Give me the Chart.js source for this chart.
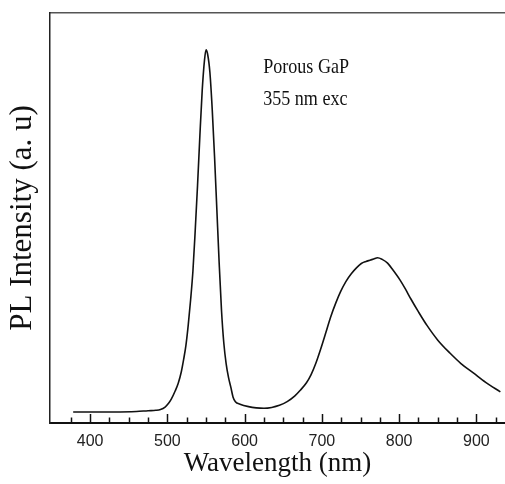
<!DOCTYPE html>
<html>
<head>
<meta charset="utf-8">
<script src="https://cdn.jsdelivr.net/npm/chart.js@4.4.0/dist/chart.umd.min.js"></script>
<style>
  html, body { margin: 0; padding: 0; background: #fff; overflow: hidden; }
  #plChart { display: block; }
</style>
</head>
<body>
<canvas id="plChart" width="505" height="484"></canvas>
<script>
// wavelength (nm) and PL intensity (a.u., 0 = axis, 1 = top of frame)
var wavelengths = [
  378, 400, 430, 460, 475, 485, 491, 497, 501.5, 505, 510, 514, 518, 521, 524, 527, 530, 533,
  536, 539, 542, 545, 548, 550, 552, 555, 558, 561, 564, 567, 570, 573, 576, 579, 582, 585,
  588, 594, 605, 615, 625, 635, 645, 655, 665, 672, 680, 686, 692, 698, 705, 711, 718, 724,
  731, 738, 745, 751, 757, 762, 767, 772, 778, 785, 792, 801, 808, 815, 825, 836, 850, 866,
  880, 896, 912, 931
];
var intensity = [
  0.027, 0.027, 0.027, 0.028, 0.030, 0.031, 0.033, 0.039, 0.048, 0.058, 0.078, 0.097, 0.125,
  0.155, 0.190, 0.240, 0.300, 0.370, 0.470, 0.580, 0.700, 0.810, 0.885, 0.910, 0.900, 0.855,
  0.765, 0.650, 0.520, 0.390, 0.275, 0.195, 0.145, 0.112, 0.088, 0.063, 0.052, 0.046, 0.040,
  0.037, 0.036, 0.038, 0.043, 0.052, 0.066, 0.080, 0.098, 0.118, 0.145, 0.178, 0.220, 0.257,
  0.293, 0.320, 0.345, 0.364, 0.379, 0.389, 0.394, 0.397, 0.400, 0.403, 0.399, 0.390, 0.373,
  0.349, 0.327, 0.303, 0.271, 0.238, 0.202, 0.170, 0.145, 0.122, 0.099, 0.076
];
var xMin = 348, xMax = 937;
var tickStep = 25;
var xLabels = [400, 500, 600, 700, 800, 900];
var notes = [
  { text: 'Porous GaP', x: 624, y: 0.866 },
  { text: '355 nm exc', x: 624, y: 0.788 }
];

var points = wavelengths.map(function (w, i) { return { x: w, y: intensity[i] }; });

var innerTicks = {
  id: 'innerTicks',
  afterDraw: function (chart) {
    var ctx = chart.ctx, sx = chart.scales.x, sy = chart.scales.y, area = chart.chartArea;
    ctx.save();
    ctx.strokeStyle = '#111';
    ctx.lineWidth = 1.5;
    for (var v = 375; v <= xMax; v += tickStep) {
      var px = Math.round(sx.getPixelForValue(v)) + 0.5;
      var len = (v % 100 === 0) ? 8 : 4.5;
      ctx.beginPath();
      ctx.moveTo(px, area.bottom - 1);
      ctx.lineTo(px, area.bottom - 1 - len);
      ctx.stroke();
    }
    // annotation text
    ctx.fillStyle = '#111';
    ctx.textBaseline = 'middle';
    ctx.textAlign = 'left';
    ctx.font = '21px "Liberation Serif", "Times New Roman", serif';
    notes.forEach(function (n) {
      ctx.save();
      ctx.translate(sx.getPixelForValue(n.x), sy.getPixelForValue(n.y));
      ctx.scale(0.86, 1);
      ctx.fillText(n.text, 0, 0);
      ctx.restore();
    });
    ctx.restore();
  }
};

var plChart = new Chart(document.getElementById('plChart'), {
  type: 'line',
  data: {
    datasets: [{
      label: 'PL',
      data: points,
      borderColor: '#111',
      borderWidth: 1.6,
      pointRadius: 0,
      fill: false,
      cubicInterpolationMode: 'monotone'
    }]
  },
  options: {
    animation: false,
    responsive: false,
    layout: { padding: 0 },
    plugins: {
      legend: { display: false },
      tooltip: { enabled: false }
    },
    scales: {
      x: {
        type: 'linear',
        position: 'bottom',
        min: xMin,
        max: xMax,
        afterFit: function (s) { s.height = 61; },
        afterBuildTicks: function (s) {
          var t = [];
          for (var v = 375; v <= xMax; v += tickStep) t.push({ value: v });
          s.ticks = t;
        },
        grid: { display: false, drawTicks: false },
        border: { display: true, color: '#111', width: 2 },
        ticks: {
          autoSkip: false,
          maxRotation: 0,
          padding: 9,
          color: '#222',
          font: { family: '"Liberation Sans", Arial, sans-serif', size: 16 },
          callback: function (v) { return xLabels.indexOf(v) >= 0 ? String(v) : ''; }
        },
        title: {
          display: true,
          text: 'Wavelength (nm)',
          color: '#111',
          padding: { top: 0, bottom: 4 },
          font: { family: '"Liberation Serif", "Times New Roman", serif', size: 27 }
        }
      },
      xTop: {
        type: 'linear',
        position: 'top',
        min: xMin,
        max: xMax,
        afterFit: function (s) { s.height = 13; },
        grid: { display: false, drawTicks: false },
        border: { display: true, color: '#555', width: 1.5 },
        ticks: { display: false }
      },
      y: {
        type: 'linear',
        min: 0,
        max: 1,
        afterFit: function (s) { s.width = 50; },
        grid: { display: false, drawTicks: false },
        border: { display: true, color: '#222', width: 1.5 },
        ticks: { display: false },
        title: {
          display: true,
          text: 'PL Intensity (a. u)',
          color: '#111',
          padding: { top: 4, bottom: 4 },
          font: { family: '"Liberation Serif", "Times New Roman", serif', size: 31 }
        }
      }
    }
  },
  plugins: [innerTicks]
});
</script>
</body>
</html>
